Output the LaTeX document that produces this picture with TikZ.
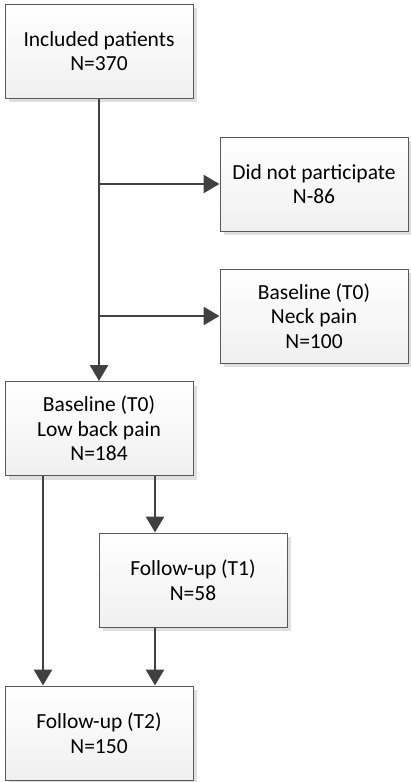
\documentclass[tikz,border=0pt]{standalone}
\usepackage{fontspec}
\setmainfont{Carlito}
\usetikzlibrary{arrows.meta,shadows}
\definecolor{boxline}{HTML}{595959}
\definecolor{arrowc}{HTML}{404040}
\tikzset{
  flowbox/.style={draw=boxline, line width=1pt, top color=white, bottom color=gray!12,
    minimum width=188pt, minimum height=94pt, align=center, font=\fontsize{21.5}{24.5}\selectfont,
    drop shadow={shadow xshift=4pt, shadow yshift=-4pt, fill=gray!25, opacity=1}},
  conn/.style={draw=arrowc, line width=2.8pt},
  arr/.style={conn, -{Triangle[length=16pt,width=18pt]}}
}
\begin{document}
\begin{tikzpicture}[x=1pt,y=-1pt]
\useasboundingbox (0,0) rectangle (410,782);
\node[flowbox] (inc) at (99,51) {Included patients\\N=370};
\node[flowbox] (dnp) at (314,184) {Did not participate\\N-86};
\node[flowbox] (neck) at (314,316) {Baseline (T0)\\Neck pain\\N=100};
\node[flowbox] (lbp) at (99,428.5) {Baseline (T0)\\Low back pain\\N=184};
\node[flowbox] (t1) at (193,580) {Follow-up (T1)\\N=58};
\node[flowbox] (t2) at (99,733) {Follow-up (T2)\\N=150};
\coordinate (j1) at (99,184);
\coordinate (j2) at (99,316);
\coordinate (xl) at (43,0);
\coordinate (xr) at (155,0);
\draw[arr] (inc.south) -- (lbp.north);
\draw[arr] (j1) -- (dnp.west);
\draw[arr] (j2) -- (neck.west);
\draw[arr] (lbp.south -| xr) -- (t1.north -| xr);
\draw[arr] (t1.south -| xr) -- (t2.north -| xr);
\draw[arr] (lbp.south -| xl) -- (t2.north -| xl);
\end{tikzpicture}
\end{document}
